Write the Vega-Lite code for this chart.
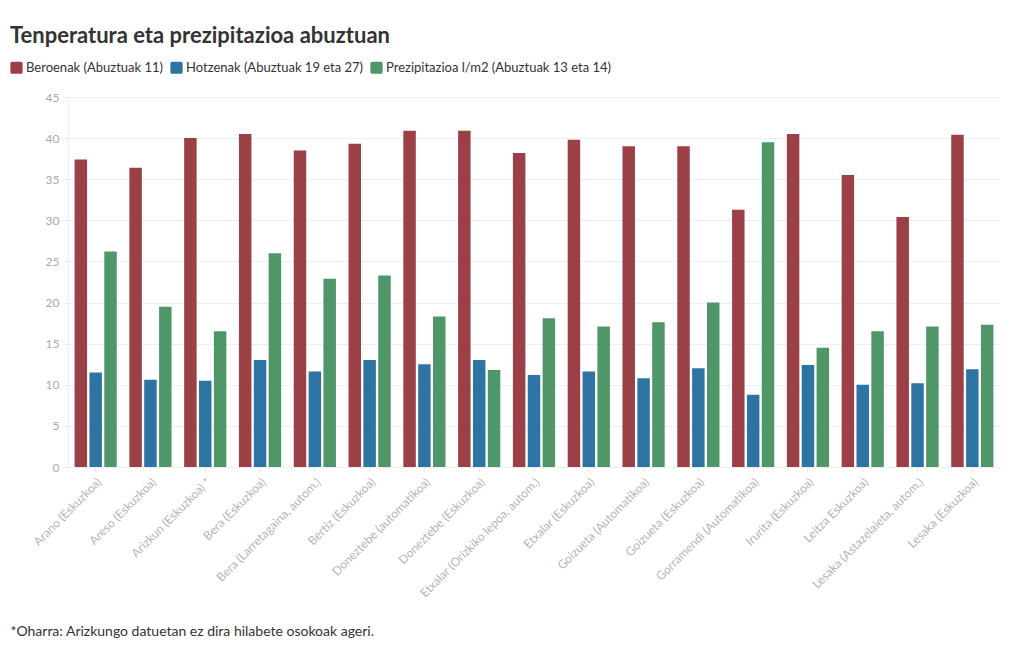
{
  "$schema": "https://vega.github.io/schema/vega-lite/v6.json",
  "width": 932,
  "height": 370,
  "autosize": {"type": "none"},
  "padding": {"left": 68, "top": 97, "right": 20, "bottom": 183},
  "background": "#ffffff",
  "title": {
    "text": "Tenperatura eta prezipitazioa abuztuan",
    "anchor": "start",
    "frame": "group",
    "dx": -58,
    "font": "Lato",
    "fontSize": 22,
    "fontWeight": "bold",
    "color": "#333333",
    "offset": 13
  },
  "data": {
    "values": [
      {"station": "Arano (Eskuzkoa)", "series": "Beroenak (Abuztuak 11)", "value": 37.4},
      {"station": "Arano (Eskuzkoa)", "series": "Hotzenak (Abuztuak 19 eta 27)", "value": 11.5},
      {"station": "Arano (Eskuzkoa)", "series": "Prezipitazioa l/m2 (Abuztuak 13 eta 14)", "value": 26.2},
      {"station": "Areso (Eskuzkoa)", "series": "Beroenak (Abuztuak 11)", "value": 36.4},
      {"station": "Areso (Eskuzkoa)", "series": "Hotzenak (Abuztuak 19 eta 27)", "value": 10.6},
      {"station": "Areso (Eskuzkoa)", "series": "Prezipitazioa l/m2 (Abuztuak 13 eta 14)", "value": 19.5},
      {"station": "Arizkun (Eskuzkoa) *", "series": "Beroenak (Abuztuak 11)", "value": 40.0},
      {"station": "Arizkun (Eskuzkoa) *", "series": "Hotzenak (Abuztuak 19 eta 27)", "value": 10.5},
      {"station": "Arizkun (Eskuzkoa) *", "series": "Prezipitazioa l/m2 (Abuztuak 13 eta 14)", "value": 16.5},
      {"station": "Bera (Eskuzkoa)", "series": "Beroenak (Abuztuak 11)", "value": 40.5},
      {"station": "Bera (Eskuzkoa)", "series": "Hotzenak (Abuztuak 19 eta 27)", "value": 13.0},
      {"station": "Bera (Eskuzkoa)", "series": "Prezipitazioa l/m2 (Abuztuak 13 eta 14)", "value": 26.0},
      {"station": "Bera (Larretagaina, autom.)", "series": "Beroenak (Abuztuak 11)", "value": 38.5},
      {"station": "Bera (Larretagaina, autom.)", "series": "Hotzenak (Abuztuak 19 eta 27)", "value": 11.6},
      {"station": "Bera (Larretagaina, autom.)", "series": "Prezipitazioa l/m2 (Abuztuak 13 eta 14)", "value": 22.9},
      {"station": "Bertiz (Eskuzkoa)", "series": "Beroenak (Abuztuak 11)", "value": 39.3},
      {"station": "Bertiz (Eskuzkoa)", "series": "Hotzenak (Abuztuak 19 eta 27)", "value": 13.0},
      {"station": "Bertiz (Eskuzkoa)", "series": "Prezipitazioa l/m2 (Abuztuak 13 eta 14)", "value": 23.3},
      {"station": "Doneztebe (automatikoa)", "series": "Beroenak (Abuztuak 11)", "value": 40.9},
      {"station": "Doneztebe (automatikoa)", "series": "Hotzenak (Abuztuak 19 eta 27)", "value": 12.5},
      {"station": "Doneztebe (automatikoa)", "series": "Prezipitazioa l/m2 (Abuztuak 13 eta 14)", "value": 18.3},
      {"station": "Doneztebe (Eskuzkoa)", "series": "Beroenak (Abuztuak 11)", "value": 40.9},
      {"station": "Doneztebe (Eskuzkoa)", "series": "Hotzenak (Abuztuak 19 eta 27)", "value": 13.0},
      {"station": "Doneztebe (Eskuzkoa)", "series": "Prezipitazioa l/m2 (Abuztuak 13 eta 14)", "value": 11.8},
      {"station": "Etxalar (Orizkiko lepoa, autom.)", "series": "Beroenak (Abuztuak 11)", "value": 38.2},
      {"station": "Etxalar (Orizkiko lepoa, autom.)", "series": "Hotzenak (Abuztuak 19 eta 27)", "value": 11.2},
      {"station": "Etxalar (Orizkiko lepoa, autom.)", "series": "Prezipitazioa l/m2 (Abuztuak 13 eta 14)", "value": 18.1},
      {"station": "Etxalar (Eskuzkoa)", "series": "Beroenak (Abuztuak 11)", "value": 39.8},
      {"station": "Etxalar (Eskuzkoa)", "series": "Hotzenak (Abuztuak 19 eta 27)", "value": 11.6},
      {"station": "Etxalar (Eskuzkoa)", "series": "Prezipitazioa l/m2 (Abuztuak 13 eta 14)", "value": 17.1},
      {"station": "Goizueta (Automatikoa)", "series": "Beroenak (Abuztuak 11)", "value": 39.0},
      {"station": "Goizueta (Automatikoa)", "series": "Hotzenak (Abuztuak 19 eta 27)", "value": 10.8},
      {"station": "Goizueta (Automatikoa)", "series": "Prezipitazioa l/m2 (Abuztuak 13 eta 14)", "value": 17.6},
      {"station": "Goizueta (Eskuzkoa)", "series": "Beroenak (Abuztuak 11)", "value": 39.0},
      {"station": "Goizueta (Eskuzkoa)", "series": "Hotzenak (Abuztuak 19 eta 27)", "value": 12.0},
      {"station": "Goizueta (Eskuzkoa)", "series": "Prezipitazioa l/m2 (Abuztuak 13 eta 14)", "value": 20.0},
      {"station": "Gorramendi (Automatikoa)", "series": "Beroenak (Abuztuak 11)", "value": 31.3},
      {"station": "Gorramendi (Automatikoa)", "series": "Hotzenak (Abuztuak 19 eta 27)", "value": 8.8},
      {"station": "Gorramendi (Automatikoa)", "series": "Prezipitazioa l/m2 (Abuztuak 13 eta 14)", "value": 39.5},
      {"station": "Irurita (Eskuzkoa)", "series": "Beroenak (Abuztuak 11)", "value": 40.5},
      {"station": "Irurita (Eskuzkoa)", "series": "Hotzenak (Abuztuak 19 eta 27)", "value": 12.4},
      {"station": "Irurita (Eskuzkoa)", "series": "Prezipitazioa l/m2 (Abuztuak 13 eta 14)", "value": 14.5},
      {"station": "Leitza Eskuzkoa)", "series": "Beroenak (Abuztuak 11)", "value": 35.5},
      {"station": "Leitza Eskuzkoa)", "series": "Hotzenak (Abuztuak 19 eta 27)", "value": 10.0},
      {"station": "Leitza Eskuzkoa)", "series": "Prezipitazioa l/m2 (Abuztuak 13 eta 14)", "value": 16.5},
      {"station": "Lesaka (Astazelaieta, autom.)", "series": "Beroenak (Abuztuak 11)", "value": 30.4},
      {"station": "Lesaka (Astazelaieta, autom.)", "series": "Hotzenak (Abuztuak 19 eta 27)", "value": 10.2},
      {"station": "Lesaka (Astazelaieta, autom.)", "series": "Prezipitazioa l/m2 (Abuztuak 13 eta 14)", "value": 17.1},
      {"station": "Lesaka (Eskuzkoa)", "series": "Beroenak (Abuztuak 11)", "value": 40.4},
      {"station": "Lesaka (Eskuzkoa)", "series": "Hotzenak (Abuztuak 19 eta 27)", "value": 11.9},
      {"station": "Lesaka (Eskuzkoa)", "series": "Prezipitazioa l/m2 (Abuztuak 13 eta 14)", "value": 17.3}
    ]
  },
  "mark": {"type": "bar"},
  "encoding": {
    "x": {
      "field": "station",
      "type": "nominal",
      "sort": null,
      "scale": {"paddingInner": 0.23, "paddingOuter": 0.12},
      "axis": {
        "title": "*Oharra: Arizkungo datuetan ez dira hilabete osokoak ageri.",
        "titleX": -58,
        "titleY": 164,
        "titleAlign": "left",
        "titleBaseline": "middle",
        "titleFont": "Lato",
        "titleFontSize": 14,
        "titleFontWeight": "normal",
        "titleColor": "#333333",
        "labelAngle": -45,
        "labelFont": "Lato",
        "labelFontSize": 12,
        "labelColor": "#b5b5b5",
        "labelPadding": 4,
        "labelOverlap": false,
        "labelLimit": 0,
        "domain": false,
        "ticks": true,
        "tickColor": "#e8e8e8",
        "tickSize": 5,
        "grid": false
      }
    },
    "xOffset": {
      "field": "series",
      "type": "nominal",
      "scale": {"paddingInner": 0.16}
    },
    "y": {
      "field": "value",
      "type": "quantitative",
      "scale": {"domain": [0, 45], "nice": false},
      "axis": {
        "title": null,
        "values": [0, 5, 10, 15, 20, 25, 30, 35, 40, 45],
        "labelFont": "Lato",
        "labelFontSize": 12,
        "labelColor": "#aaaaaa",
        "labelPadding": 4,
        "domain": true,
        "domainColor": "#eeeeee",
        "ticks": true,
        "tickColor": "#eeeeee",
        "tickSize": 5,
        "grid": true,
        "gridColor": "#eeeeee"
      }
    },
    "color": {
      "field": "series",
      "type": "nominal",
      "scale": {
        "domain": ["Beroenak (Abuztuak 11)", "Hotzenak (Abuztuak 19 eta 27)", "Prezipitazioa l/m2 (Abuztuak 13 eta 14)"],
        "range": ["#9b4047", "#2e74a2", "#4f9668"]
      },
      "legend": {
        "title": null,
        "orient": "none",
        "direction": "horizontal",
        "legendX": -58,
        "legendY": -36,
        "symbolType": "M-0.7,-1H0.7A0.3,0.3 0 0 1 1,-0.7V0.7A0.3,0.3 0 0 1 0.7,1H-0.7A0.3,0.3 0 0 1 -1,0.7V-0.7A0.3,0.3 0 0 1 -0.7,-1Z",
        "symbolSize": 150,
        "symbolStrokeWidth": 0,
        "symbolOpacity": 1,
        "labelFont": "Lato",
        "labelFontSize": 13,
        "labelColor": "#333333",
        "labelOffset": 3,
        "labelLimit": 0,
        "columnPadding": 6
      }
    }
  },
  "config": {
    "view": {"stroke": null}
  }
}
